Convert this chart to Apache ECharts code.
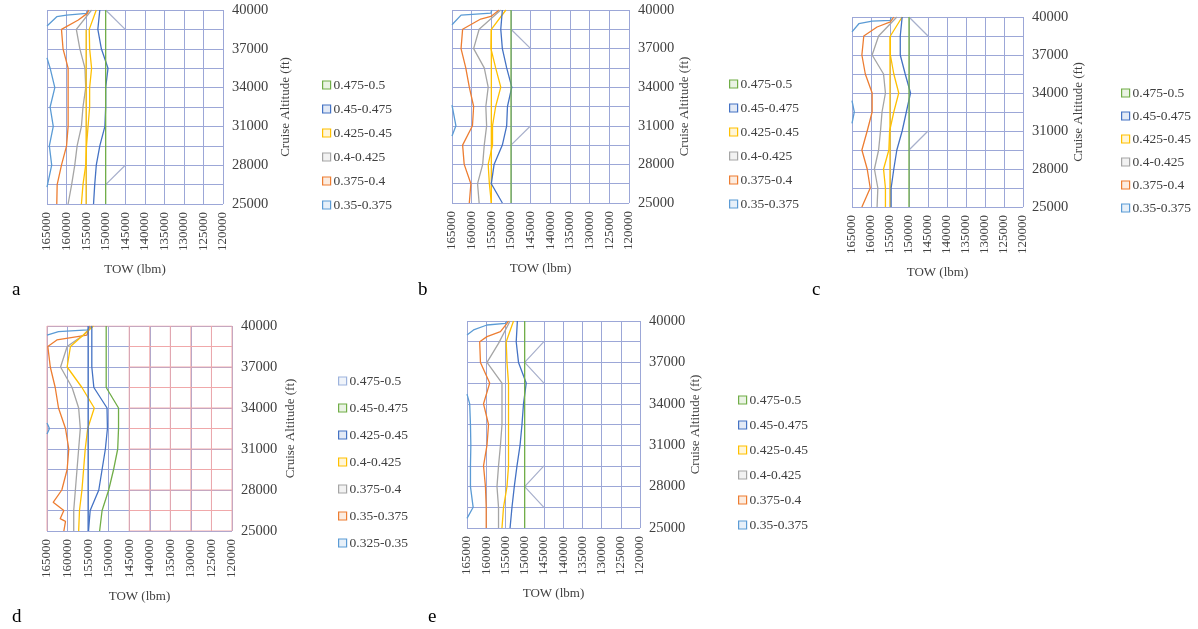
<!DOCTYPE html>
<html>
<head>
<meta charset="utf-8">
<script src="https://cdn.jsdelivr.net/npm/echarts@6/dist/echarts.min.js"></script>
<style>
  html, body { margin: 0; padding: 0; background: #fff; }
  #chart { width: 1198px; height: 629px; }
</style>
</head>
<body>
<div id="chart"></div>
<script>
// axis ticks
var TOW_TICKS = [165000, 160000, 155000, 150000, 145000, 140000, 135000, 130000, 125000, 120000]
var ALT_ROWS = [25000, 26500, 28000, 29500, 31000, 32500, 34000, 35500, 37000, 38500, 40000]

// legend bands (top to bottom)
var BANDS_6 = ['0.475-0.5', '0.45-0.475', '0.425-0.45', '0.4-0.425', '0.375-0.4', '0.35-0.375']
var BANDS_7 = ['0.475-0.5', '0.45-0.475', '0.425-0.45', '0.4-0.425', '0.375-0.4', '0.35-0.375', '0.325-0.35']
// colours from lowest band upward
var BAND_COLORS = ['#5B9BD5', '#ED7D31', '#A5A5A5', '#FFC000', '#4472C4', '#70AD47', '#9DB3DD']

// contour lines, [TOW, altitude]
// panel a
var aBlueL = [[165000, 26300], [163800, 28000], [164400, 29500], [163400, 31000], [164200, 32500], [163000, 34000], [164200, 35500], [165000, 36300]]
var aBlueT = [[165000, 38760], [162500, 39480], [160000, 39610], [154900, 39740], [154500, 40000]]
var aOrange = [[162500, 25000], [162400, 26500], [161300, 28000], [160000, 29500], [159600, 31000], [159600, 32500], [159600, 34000], [159600, 35500], [160900, 37000], [161300, 38500], [157000, 39230], [154700, 39740], [154300, 40000]]
var aGray = [[159600, 25000], [158700, 26500], [157900, 28000], [157300, 29500], [156200, 31000], [155800, 32500], [155100, 34000], [155300, 35500], [156600, 37000], [157500, 38500], [153600, 40000]]
var aYellow = [[156200, 25000], [155800, 26500], [155100, 28000], [154900, 29500], [154500, 31000], [154100, 32500], [154100, 34000], [153600, 35500], [154100, 37000], [154200, 38500], [152400, 40000]]
var aYellow2 = [[155000, 25000], [155000, 38500]]
var aBlueR = [[153100, 25000], [152800, 26500], [152400, 28000], [151500, 29500], [150200, 31000], [150000, 32500], [150000, 34000], [149400, 35500], [151100, 37000], [152000, 38500], [151500, 40000]]
var aGreen = [[150000, 25000], [150000, 40000]]
var aDiag1 = [[150000, 40000], [145000, 38500]]
var aDiag2 = [[145000, 28000], [150000, 26500]]

// panel b
var bBlueL = [[165000, 32600], [164000, 31000], [165000, 30200]]
var bBlueT = [[165000, 38850], [162700, 39600], [155100, 39750], [154900, 40000]]
var bOrange = [[160600, 25000], [160200, 26500], [161900, 28000], [162300, 29500], [159800, 31000], [159500, 32500], [160600, 34000], [161500, 35500], [162700, 37000], [162300, 38500], [157700, 39300], [155100, 39500], [153000, 40000]]
var bGray = [[158100, 25000], [158500, 26500], [157200, 28000], [156800, 29500], [156200, 31000], [156400, 32500], [155800, 34000], [156800, 35500], [159500, 37000], [158100, 38500], [152600, 40000]]
var bYellow = [[155000, 25000], [155500, 26500], [155800, 28000], [154700, 29500], [154700, 31000], [153900, 32500], [152600, 34000], [153900, 35500], [155100, 37000], [155000, 38500], [151300, 40000]]
var bYellow2 = [[155000, 25000], [155000, 38500]]
var bBlueR = [[152200, 25000], [155000, 26500], [154300, 28000], [152200, 29500], [151100, 31000], [150900, 32500], [149800, 34000], [151100, 35500], [152200, 37000], [152600, 38500], [152200, 40000]]
var bGreen = [[150000, 25000], [150000, 40000]]
var bDiag1 = [[150000, 38500], [145000, 37000]]
var bDiag2 = [[145000, 31000], [150000, 29500]]

// panel c
var cBlueL = [[165000, 33400], [164400, 32500], [165000, 31600]]
var cBlueT = [[165000, 38820], [163200, 39470], [159700, 39680], [154900, 39740], [154700, 40000]]
var cOrange = [[162400, 25000], [160200, 26500], [161000, 28000], [162400, 29500], [161000, 31000], [159700, 32500], [159700, 34000], [161500, 35500], [162400, 37000], [161900, 38500], [158400, 39210], [154900, 39610], [154000, 40000]]
var cGray = [[158400, 25000], [158200, 26500], [159100, 28000], [158000, 29500], [157500, 31000], [157100, 32500], [156200, 34000], [156700, 35500], [159700, 37000], [158000, 38500], [153200, 40000]]
var cYellow = [[156200, 25000], [156200, 26500], [156700, 28000], [155300, 29500], [155100, 31000], [154000, 32500], [152700, 34000], [154000, 35500], [154900, 37000], [154900, 38500], [151800, 40000]]
var cYellow2 = [[155000, 25000], [155000, 38500]]
var cBlueR = [[154700, 25000], [154700, 26500], [154000, 28000], [153200, 29500], [151800, 31000], [150700, 32500], [149600, 34000], [151000, 35500], [152300, 37000], [152300, 38500], [151800, 40000]]
var cGreen = [[150000, 25000], [150000, 40000]]
var cDiag1 = [[150000, 40000], [145000, 38500]]
var cDiag2 = [[145000, 31000], [150000, 29500]]

// panel d
var dBlueL = [[165000, 32900], [164400, 32500], [165000, 32100]]
var dBlueT = [[165000, 39340], [162200, 39590], [155100, 39710], [154600, 40000]]
var dOrange = [[160900, 25000], [160500, 25700], [161800, 25900], [160900, 26500], [163500, 27100], [161400, 28000], [160100, 29500], [159700, 31000], [160500, 32500], [162200, 34000], [163000, 35500], [164200, 37000], [164800, 38500], [162600, 38980], [155300, 39340], [154500, 40000]]
var dGray = [[158500, 25000], [158500, 26500], [158100, 28000], [157700, 29500], [157300, 31000], [156900, 32500], [157300, 34000], [158900, 35500], [161700, 37000], [160100, 38500], [156100, 39340], [154100, 40000]]
var dYellow = [[157300, 25000], [157100, 26500], [156500, 28000], [156100, 29500], [155700, 31000], [155100, 32500], [153500, 34000], [156500, 35500], [160100, 37000], [159300, 38500], [153700, 40000]]
var dBlue = [[154900, 25000], [154500, 26500], [152400, 28000], [151600, 29500], [150800, 31000], [150300, 32500], [150400, 34000], [153600, 35500], [154100, 37000], [154100, 38500], [154100, 40000]]
var dBlue2 = [[155000, 25000], [155000, 40000]]
var dGreen = [[152200, 25000], [151600, 26500], [150000, 28000], [148800, 29500], [147800, 31000], [147600, 32500], [147600, 34000], [150600, 35500], [150600, 37000], [150600, 38500], [150600, 40000]]

// panel e
var eBlueL = [[165000, 34700], [164300, 34000], [164100, 32500], [164000, 31000], [164100, 29500], [164100, 28000], [163400, 26500], [165000, 25700]]
var eBlueT = [[165000, 38990], [163300, 39350], [159800, 39710], [155000, 39830], [154600, 40000]]
var eOrange = [[160000, 25000], [160000, 26500], [160200, 28000], [160700, 29500], [159800, 31000], [159400, 32500], [160700, 34000], [159100, 35500], [161500, 37000], [161700, 38500], [159800, 38870], [156300, 39230], [154600, 39830], [154200, 40000]]
var eGray = [[156800, 25000], [156800, 26500], [157200, 28000], [156800, 29500], [156300, 31000], [155900, 32500], [155900, 34000], [155900, 35500], [159800, 37000], [156800, 38380], [153800, 40000]]
var eYellow = [[155900, 25000], [155500, 26500], [154600, 28000], [154200, 29500], [154200, 31000], [154200, 32500], [154200, 34000], [154200, 35500], [154600, 37000], [154800, 38500], [152900, 40000]]
var eBlueR = [[153800, 25000], [153300, 26500], [152700, 28000], [152000, 29500], [151200, 31000], [150700, 32500], [150300, 34000], [149600, 35500], [151600, 37000], [152200, 38500], [151900, 40000]]
var eGreen = [[150000, 25000], [150000, 40000]]
var eDiag1 = [[145000, 38500], [150000, 37000], [145000, 35500]]
var eDiag2 = [[145000, 29500], [150000, 28000], [145000, 26500]]

var GRID_COLOR = '#9CA7D7'
var PINK = '#F0A8AA'
var DIAG_COLOR = '#A7AFCB'
var FONT = 'Liberation Serif'

var panels = [
  {
    id: 'a', bands: BANDS_6,
    grid: {left: 47, top: 10, width: 176, height: 194},
    nameGap: 56, legend: {left: 317, top: 73, itemGap: 10},
    letter: [12, 291],
    lines: [['0.35-0.375', aBlueL], ['0.35-0.375', aBlueT], ['0.375-0.4', aOrange], ['0.4-0.425', aGray], ['0.425-0.45', aYellow2], ['0.425-0.45', aYellow], ['0.45-0.475', aBlueR], ['0.475-0.5', aGreen]],
    diag: [aDiag1, aDiag2]
  },
  {
    id: 'b', bands: BANDS_6,
    grid: {left: 452, top: 10, width: 177, height: 193},
    nameGap: 47, legend: {left: 724, top: 72, itemGap: 10},
    letter: [418, 291],
    lines: [['0.35-0.375', bBlueL], ['0.35-0.375', bBlueT], ['0.375-0.4', bOrange], ['0.4-0.425', bGray], ['0.425-0.45', bYellow2], ['0.425-0.45', bYellow], ['0.45-0.475', bBlueR], ['0.475-0.5', bGreen]],
    diag: [bDiag1, bDiag2]
  },
  {
    id: 'c', bands: BANDS_6,
    grid: {left: 852, top: 17, width: 171, height: 190},
    nameGap: 49, legend: {left: 1116, top: 81, itemGap: 9},
    letter: [812, 291],
    lines: [['0.35-0.375', cBlueL], ['0.35-0.375', cBlueT], ['0.375-0.4', cOrange], ['0.4-0.425', cGray], ['0.425-0.45', cYellow2], ['0.425-0.45', cYellow], ['0.45-0.475', cBlueR], ['0.475-0.5', cGreen]],
    diag: [cDiag1, cDiag2]
  },
  {
    id: 'd', bands: BANDS_7,
    grid: {left: 47, top: 326, width: 185, height: 205},
    nameGap: 52, legend: {left: 333, top: 369, itemGap: 13},
    letter: [12, 618], pink: true,
    lines: [['0.325-0.35', dBlueL], ['0.325-0.35', dBlueT], ['0.35-0.375', dOrange], ['0.375-0.4', dGray], ['0.4-0.425', dYellow], ['0.425-0.45', dBlue], ['0.425-0.45', dBlue2], ['0.45-0.475', dGreen], ['0.475-0.5', []]],
    diag: []
  },
  {
    id: 'e', bands: BANDS_6,
    grid: {left: 467, top: 321, width: 173, height: 207},
    nameGap: 48, legend: {left: 733, top: 388, itemGap: 11},
    letter: [428, 618],
    lines: [['0.35-0.375', eBlueL], ['0.35-0.375', eBlueT], ['0.375-0.4', eOrange], ['0.4-0.425', eGray], ['0.425-0.45', eYellow], ['0.45-0.475', eBlueR], ['0.475-0.5', eGreen]],
    diag: [eDiag1, eDiag2]
  }
]

function bandColor (bands, name) {
  var i = bands.indexOf(name)
  return BAND_COLORS[bands.length - 1 - i]
}

function tint (hex, a) {
  var n = parseInt(hex.slice(1), 16)
  return 'rgba(' + (n >> 16) + ',' + ((n >> 8) & 255) + ',' + (n & 255) + ',' + a + ')'
}

function lineSeries (idx, name, color, data, width) {
  return {
    type: 'line',
    name: name,
    xAxisIndex: idx,
    yAxisIndex: idx,
    data: data,
    symbol: 'none',
    silent: true,
    animation: false,
    lineStyle: {color: color, width: width},
    itemStyle: {color: color}
  }
}

var grids = []
var xAxes = []
var yAxes = []
var legends = []
var series = []
var graphics = []

panels.forEach(function (p, idx) {
  grids.push(Object.assign({containLabel: false}, p.grid))
  xAxes.push({
    type: 'value', gridIndex: idx, inverse: true,
    min: 120000, max: 165000, interval: 5000,
    name: 'TOW (lbm)', nameLocation: 'middle', nameGap: 59,
    nameTextStyle: {fontFamily: FONT, fontSize: 13, color: '#404040'},
    axisLine: {show: false}, axisTick: {show: false},
    axisLabel: {
      rotate: 90, margin: 8, fontFamily: FONT, fontSize: 13, color: '#404040',
      formatter: function (v) { return String(v) }
    },
    splitLine: {show: true, lineStyle: {color: GRID_COLOR, width: 1}}
  })
  yAxes.push({
    type: 'value', gridIndex: idx, position: 'right',
    min: 25000, max: 40000, interval: 1500,
    name: 'Cruise Altitude (ft)', nameLocation: 'middle', nameRotate: 90, nameGap: p.nameGap,
    nameTextStyle: {fontFamily: FONT, fontSize: 13, color: '#404040'},
    axisLine: {show: false}, axisTick: {show: false},
    axisLabel: {
      margin: 9, fontFamily: FONT, fontSize: 14.5, color: '#404040',
      formatter: function (v) { return (v - 25000) % 3000 === 0 ? String(v) : '' }
    },
    splitLine: {show: true, lineStyle: {color: GRID_COLOR, width: 1}}
  })

  // pink wireframe on the right part of panel d
  if (p.pink) {
    TOW_TICKS.forEach(function (t) {
      if (t <= 145000) series.push(lineSeries(idx, 'grid', PINK, [[t, 25000], [t, 40000]], 1))
    })
    ALT_ROWS.forEach(function (h) {
      series.push(lineSeries(idx, 'grid', PINK, [[145000, h], [120000, h]], 1))
    })
    series.push(lineSeries(idx, 'grid', PINK, [[165000, 40000], [145000, 40000]], 1))
    series.push(lineSeries(idx, 'grid', PINK, [[165000, 25000], [165000, 40000]], 1))
  }

  p.diag.forEach(function (d) {
    series.push(lineSeries(idx, 'diag', DIAG_COLOR, d, 1.2))
  })
  p.lines.forEach(function (l) {
    series.push(lineSeries(idx, p.id + ':' + l[0], bandColor(p.bands, l[0]), l[1], 1.3))
  })

  legends.push({
    orient: 'vertical',
    left: p.legend.left, top: p.legend.top,
    itemGap: p.legend.itemGap,
    itemWidth: 8, itemHeight: 8,
    icon: 'rect',
    selectedMode: false,
    textStyle: {fontFamily: FONT, fontSize: 13.5, color: '#404040', padding: [0, 0, 0, -2]},
    formatter: function (n) { return n.slice(2) },
    data: p.bands.map(function (b) {
      var c = bandColor(p.bands, b)
      return {name: p.id + ':' + b, itemStyle: {color: tint(c, 0.15), borderColor: c, borderWidth: 1.2}}
    })
  })

  graphics.push({
    type: 'text', left: p.letter[0], top: p.letter[1] - 10,
    style: {text: p.id, fontFamily: FONT, fontSize: 19, fill: '#000'}
  })
})

var chart = echarts.init(document.getElementById('chart'), null, {renderer: 'canvas'})
chart.setOption({
  animation: false,
  backgroundColor: '#fff',
  grid: grids,
  xAxis: xAxes,
  yAxis: yAxes,
  legend: legends,
  series: series,
  graphic: graphics
})
</script>
</body>
</html>
